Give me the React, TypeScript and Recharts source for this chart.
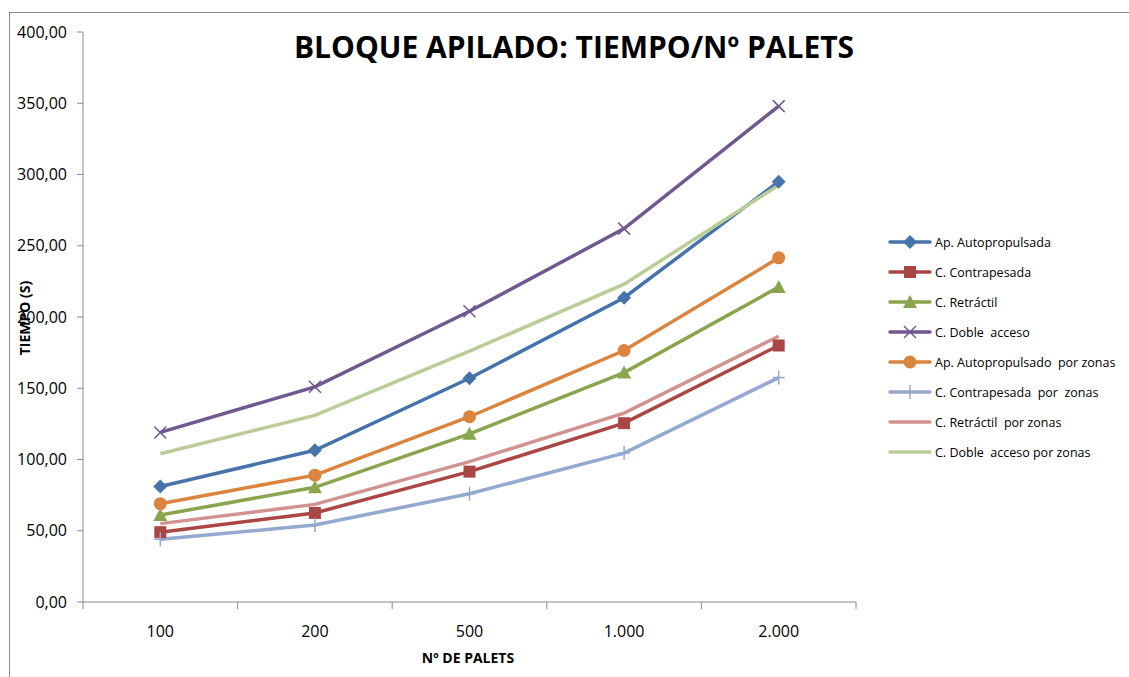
import React from 'react';
import { LineChart, Line, XAxis, YAxis } from 'recharts';

// Categories (Nº de palets)
const categories = ['100', '200', '500', '1.000', '2.000'];

// Series values (tiempo en s)
const apAutopropulsada = [81, 106.5, 157, 213.5, 295];
const cContrapesada = [49, 62.5, 91.5, 125.5, 180];
const cRetractil = [61, 80.5, 118, 161, 221];
const cDobleAcceso = [119, 151, 204, 262, 348];
const apAutopropulsadoZonas = [69, 89, 130, 176.5, 241.5];
const cContrapesadaZonas = [44, 54, 76, 104.5, 157.5];
const cRetractilZonas = [55, 68.5, 98.5, 132.5, 186.5];
const cDobleAccesoZonas = [104, 131, 176, 223, 292.5];

const yTicks = [0, 50, 100, 150, 200, 250, 300, 350, 400];

const data = categories.map((name, i) => ({
    name,
    s1: apAutopropulsada[i],
    s2: cContrapesada[i],
    s3: cRetractil[i],
    s4: cDobleAcceso[i],
    s5: apAutopropulsadoZonas[i],
    s6: cContrapesadaZonas[i],
    s7: cRetractilZonas[i],
    s8: cDobleAccesoZonas[i],
}));

const W = 1129;
const H = 677;
const PLOT_LEFT = 83;
const PLOT_RIGHT = 856;
const PLOT_TOP = 32;
const PLOT_BOTTOM = 602;
const HALF_BAND = (PLOT_RIGHT - PLOT_LEFT) / categories.length / 2;
const AXIS_GRAY = '#8a8a8a';
const FONT = '"Open Sans", sans-serif';

type MarkerKind = 'diamond' | 'square' | 'triangle' | 'x' | 'circle' | 'plus' | 'none';

function Marker({ kind, cx, cy, color }: { kind: MarkerKind; cx: number; cy: number; color: string }) {
    switch (kind) {
        case 'diamond':
            return <polygon points={`${cx},${cy - 7} ${cx + 7},${cy} ${cx},${cy + 7} ${cx - 7},${cy}`} fill={color} />;
        case 'square':
            return <rect x={cx - 6} y={cy - 6} width={12} height={12} fill={color} />;
        case 'triangle':
            return <polygon points={`${cx},${cy - 7} ${cx + 7},${cy + 6} ${cx - 7},${cy + 6}`} fill={color} />;
        case 'circle':
            return <circle cx={cx} cy={cy} r={6.5} fill={color} />;
        case 'x':
            return (
                <g stroke={color} strokeWidth={1.5}>
                    <line x1={cx - 6} y1={cy - 6} x2={cx + 6} y2={cy + 6} />
                    <line x1={cx - 6} y1={cy + 6} x2={cx + 6} y2={cy - 6} />
                </g>
            );
        case 'plus':
            return (
                <g stroke={color} strokeWidth={1.5}>
                    <line x1={cx} y1={cy - 7} x2={cx} y2={cy + 7} />
                    <line x1={cx - 6} y1={cy} x2={cx + 6} y2={cy} />
                </g>
            );
        default:
            return null;
    }
}

const SERIES: { key: string; name: string; color: string; marker: MarkerKind }[] = [
    { key: 's1', name: 'Ap. Autopropulsada', color: '#4673AA', marker: 'diamond' },
    { key: 's2', name: 'C. Contrapesada', color: '#AA4643', marker: 'square' },
    { key: 's3', name: 'C. Retráctil', color: '#89A54E', marker: 'triangle' },
    { key: 's4', name: 'C. Doble  acceso', color: '#71588F', marker: 'x' },
    { key: 's5', name: 'Ap. Autopropulsado  por zonas', color: '#DB843D', marker: 'circle' },
    { key: 's6', name: 'C. Contrapesada  por  zonas', color: '#93A9CF', marker: 'plus' },
    { key: 's7', name: 'C. Retráctil  por zonas', color: '#D19392', marker: 'none' },
    { key: 's8', name: 'C. Doble  acceso por zonas', color: '#B9CD96', marker: 'none' },
];

// Excel-style category axis: labels centred, tick marks on the band boundaries
function CategoryTick(props: any) {
    const { x, payload, index } = props;
    const last = index === categories.length - 1;
    return (
        <g>
            <line x1={x - HALF_BAND} x2={x - HALF_BAND} y1={PLOT_BOTTOM} y2={PLOT_BOTTOM + 7} stroke={AXIS_GRAY} />
            {last && (
                <line x1={x + HALF_BAND} x2={x + HALF_BAND} y1={PLOT_BOTTOM} y2={PLOT_BOTTOM + 7} stroke={AXIS_GRAY} />
            )}
            <text x={x} y={PLOT_BOTTOM + 35} textAnchor="middle" fontSize={16} fontFamily={FONT} fill="#000">
                {payload.value}
            </text>
        </g>
    );
}

function formatValue(v: number): string {
    return v.toFixed(2).replace('.', ',');
}

function LegendBox() {
    return (
        <div style={{ position: 'absolute', left: 888, top: 227 }}>
            {SERIES.map((s) => (
                <div key={s.key} style={{ display: 'flex', alignItems: 'center', height: 30 }}>
                    <svg width={44} height={20}>
                        <line x1={2} x2={42} y1={10} y2={10} stroke={s.color} strokeWidth={3.5} strokeLinecap="round" />
                        <Marker kind={s.marker} cx={22} cy={10} color={s.color} />
                    </svg>
                    <span style={{ fontFamily: FONT, fontSize: 12.5, color: '#000', marginLeft: 3, whiteSpace: 'pre' }}>
                        {s.name}
                    </span>
                </div>
            ))}
        </div>
    );
}

export default function App() {
    return (
        <div style={{ position: 'absolute', left: 0, top: 0, width: W, height: H, overflow: 'hidden', background: '#fff' }}>
            {/* outer chart frame */}
            <div style={{ position: 'absolute', left: 9, top: 12, width: W + 20, height: H + 20, border: `1px solid ${AXIS_GRAY}` }} />
            <LineChart
                width={W}
                height={H}
                data={data}
                margin={{ top: PLOT_TOP, right: W - PLOT_RIGHT, bottom: H - PLOT_BOTTOM - 40, left: 0 }}
                style={{ position: 'absolute', left: 0, top: 0 }}
            >
                <XAxis
                    dataKey="name"
                    scale="band"
                    height={40}
                    stroke={AXIS_GRAY}
                    tickLine={false}
                    tick={<CategoryTick />}
                    interval={0}
                />
                <YAxis
                    width={PLOT_LEFT}
                    domain={[0, 400]}
                    ticks={yTicks}
                    stroke={AXIS_GRAY}
                    tickSize={6}
                    tickMargin={10}
                    tickFormatter={formatValue}
                    tick={{ fontSize: 16, fontFamily: FONT, fill: '#000' }}
                />
                {SERIES.map((s) => (
                    <Line
                        key={s.key}
                        dataKey={s.key}
                        name={s.name}
                        type="linear"
                        stroke={s.color}
                        strokeWidth={3.5}
                        isAnimationActive={false}
                        dot={(p: any) => <Marker key={`${s.key}-${p.index}`} kind={s.marker} cx={p.cx} cy={p.cy} color={s.color} />}
                        activeDot={false}
                    />
                ))}
            </LineChart>
            <div
                style={{
                    position: 'absolute', left: 274, top: 26, width: 600, textAlign: 'center',
                    fontFamily: FONT, fontWeight: 700, fontSize: 30, color: '#000', whiteSpace: 'nowrap',
                }}
            >
                BLOQUE APILADO: TIEMPO/Nº PALETS
            </div>
            <div
                style={{
                    position: 'absolute', left: 368, top: 648, width: 200, textAlign: 'center',
                    fontFamily: FONT, fontWeight: 700, fontSize: 14, color: '#000',
                }}
            >
                Nº DE PALETS
            </div>
            <div
                style={{
                    position: 'absolute', left: 24, top: 318, transform: 'translate(-50%, -50%) rotate(-90deg)',
                    fontFamily: FONT, fontWeight: 700, fontSize: 14, color: '#000', whiteSpace: 'nowrap',
                }}
            >
                TIEMPO (S)
            </div>
            <LegendBox />
        </div>
    );
}
